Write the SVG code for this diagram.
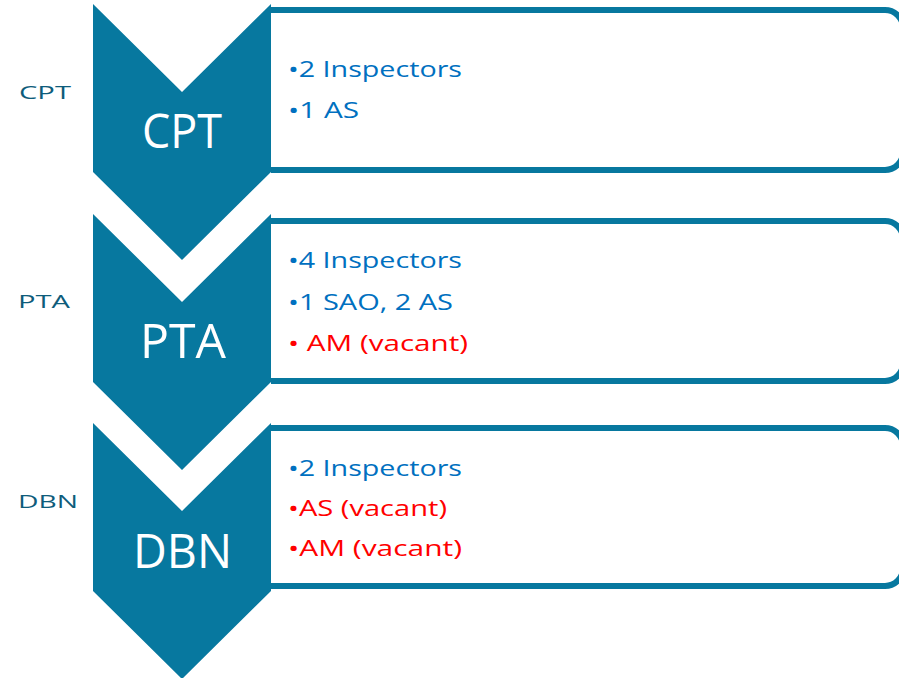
<svg xmlns="http://www.w3.org/2000/svg" width="899" height="678" viewBox="0 0 899 678">
<style>
.box{fill:#FFFFFF;stroke:#07789F;stroke-width:6}
.chev{fill:#07789F}
.side{font-family:"Open Sans","Liberation Sans",Arial,sans-serif;font-size:19px;fill:#0E5C7B}
.big{font-family:"Open Sans","Liberation Sans",Arial,sans-serif;font-size:48px;fill:#FFFFFF}
.item{font-family:"Open Sans","Liberation Sans",Arial,sans-serif;font-size:22px}
.blue{fill:#0070C0}
.red{fill:#FF0000}
</style>
<rect width="899" height="678" fill="#FFFFFF"/>
<g id="connectors"></g>
<g id="cpt">
<text class="side" x="19" y="99" textLength="52" lengthAdjust="spacingAndGlyphs">CPT</text>
<path class="box" d="M271,10 H885 A18,18 0 0 1 903,28 V152 A18,18 0 0 1 885,170 H271"/>
<path class="chev" d="M93,4 L182,92 L271,4 L271,172 L182,260 L93,172 Z"/>
<text class="big" x="142" y="148" textLength="80" lengthAdjust="spacingAndGlyphs">CPT</text>
<text class="item blue" x="288" y="77" textLength="174" lengthAdjust="spacingAndGlyphs">•2 Inspectors</text>
<text class="item blue" x="288" y="118" textLength="71" lengthAdjust="spacingAndGlyphs">•1 AS</text>
</g>
<g id="pta">
<text class="side" x="18" y="308" textLength="52" lengthAdjust="spacingAndGlyphs">PTA</text>
<path class="box" d="M271,221 H885 A18,18 0 0 1 903,239 V363 A18,18 0 0 1 885,381 H271"/>
<path class="chev" d="M93,214 L182,302 L271,214 L271,382 L182,470 L93,382 Z"/>
<text class="big" x="140" y="358" textLength="86" lengthAdjust="spacingAndGlyphs">PTA</text>
<text class="item blue" x="288" y="268" textLength="174" lengthAdjust="spacingAndGlyphs">•4 Inspectors</text>
<text class="item blue" x="288" y="310" textLength="165" lengthAdjust="spacingAndGlyphs">•1 SAO, 2 AS</text>
<text class="item red" x="288" y="351" textLength="180" lengthAdjust="spacingAndGlyphs">• AM (vacant)</text>
</g>
<g id="dbn">
<text class="side" x="18" y="508" textLength="60" lengthAdjust="spacingAndGlyphs">DBN</text>
<path class="box" d="M271,428 H885 A18,18 0 0 1 903,446 V568 A18,18 0 0 1 885,586 H271"/>
<path class="chev" d="M93,423 L182,511 L271,423 L271,591 L182,679 L93,591 Z"/>
<text class="big" x="133" y="568" textLength="99" lengthAdjust="spacingAndGlyphs">DBN</text>
<text class="item blue" x="288" y="476" textLength="174" lengthAdjust="spacingAndGlyphs">•2 Inspectors</text>
<text class="item red" x="288" y="516" textLength="159" lengthAdjust="spacingAndGlyphs">•AS (vacant)</text>
<text class="item red" x="288" y="556" textLength="174" lengthAdjust="spacingAndGlyphs">•AM (vacant)</text>
</g>
</svg>
